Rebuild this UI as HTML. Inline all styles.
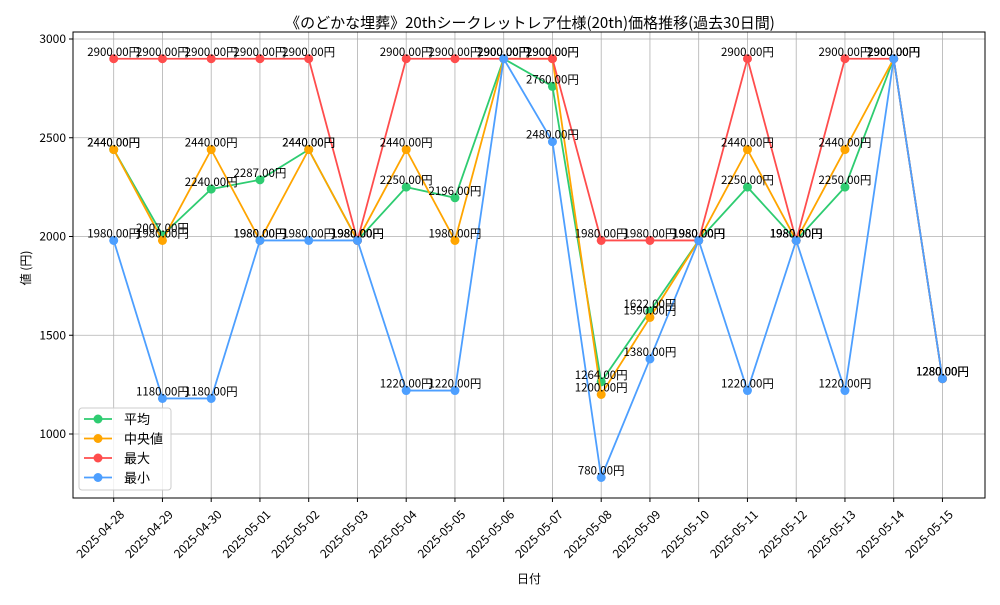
<!DOCTYPE html>
<html><head><meta charset="utf-8"><style>
body{margin:0;background:#fff;font-family:"Liberation Sans","WenQuanYi Zen Hei","Noto Sans CJK JP",sans-serif;}
text{font-family:"WenQuanYi Zen Hei","Noto Sans CJK JP","Liberation Sans",sans-serif;}
</style></head><body>
<svg id="chart" width="1000" height="600" xmlns="http://www.w3.org/2000/svg">
<g id="grid"></g>
<g id="series"></g>
<g id="axes"></g>
<text x="530" y="28" font-size="15" text-anchor="middle">《のどかな埋葬》20thシークレットレア仕様(20th)価格推移(過去30日間)</text>
<text x="529" y="583" font-size="12" text-anchor="middle">日付</text>
<text transform="translate(30,268) rotate(-90)" font-size="12" text-anchor="middle">値 (円)</text>
<g id="legend"></g>
</svg>
<script>
const dates=["2025-04-28","2025-04-29","2025-04-30","2025-05-01","2025-05-02","2025-05-03","2025-05-04","2025-05-05","2025-05-06","2025-05-07","2025-05-08","2025-05-09","2025-05-10","2025-05-11","2025-05-12","2025-05-13","2025-05-14","2025-05-15"];
const avgVals=[2440,2007,2240,2287,2440,1980,2250,2196,2900,2760,1264,1622,1980,2250,1980,2250,2900,1280];
const medVals=[2440,1980,2440,1980,2440,1980,2440,1980,2900,2900,1200,1590,1980,2440,1980,2440,2900,1280];
const maxVals=[2900,2900,2900,2900,2900,1980,2900,2900,2900,2900,1980,1980,1980,2900,1980,2900,2900,1280];
const minVals=[1980,1180,1180,1980,1980,1980,1220,1220,2900,2480,780,1380,1980,1220,1980,1220,2900,1280];
const yTicks=[1000,1500,2000,2500,3000];
const seriesNames=["平均","中央値","最大","最小"];
const NS="http://www.w3.org/2000/svg";
const L=73,R=985,T=32,B=498;
const xs=i=>113.7+i*48.75;
const ys=v=>434-(v-1000)*0.1975;
function mk(tag,attrs,parent,txt){const e=document.createElementNS(NS,tag);for(const k in attrs)e.setAttribute(k,attrs[k]);if(txt!==undefined)e.textContent=txt;parent.appendChild(e);return e;}
const grid=document.getElementById('grid'),axes=document.getElementById('axes'),ser=document.getElementById('series'),leg=document.getElementById('legend');
dates.forEach((d,i)=>{
 const g=mk('line',{x1:xs(i),x2:xs(i),y1:T,y2:B,stroke:'#b0b0b0','stroke-width':0.8},grid);
 
 const t=mk('line',{x1:xs(i),x2:xs(i),y1:B,y2:B+4,stroke:'#000'},axes);
 
 const lb=mk('text',{transform:`translate(${xs(i)+4},${B+10}) rotate(-45)`,'font-size':12,'text-anchor':'end','dominant-baseline':'hanging'},axes,d);
 
});
yTicks.forEach(v=>{
 const g=mk('line',{x1:L,x2:R,y1:ys(v),y2:ys(v),stroke:'#b0b0b0','stroke-width':0.8},grid);
 
 const t=mk('line',{x1:L-4,x2:L,y1:ys(v),y2:ys(v),stroke:'#000'},axes);
 
 const lb=mk('text',{x:L-7,y:ys(v)+4,'font-size':12,'text-anchor':'end'},axes,String(v));
 
});
const fr=mk('rect',{x:L,y:T,width:R-L,height:B-T,fill:'none',stroke:'#000','stroke-width':1},axes);

const all=[avgVals,medVals,maxVals,minVals];
const colors=["#2ecc71","#ffa500","#ff4d4d","#4d9fff"];
const keys=["avg","median","max","min"];
all.forEach((vals,s)=>{
 const g=mk('g',{},ser);
 const p=mk('polyline',{points:vals.map((v,i)=>xs(i)+','+ys(v)).join(' '),fill:'none',stroke:colors[s],'stroke-width':1.8},g);
 
 vals.forEach((v,i)=>{
  const c=mk('circle',{cx:xs(i),cy:ys(v),r:4.5,fill:colors[s]},g);
  
 });
});
all.forEach((vals,s)=>{
 vals.forEach((v,i)=>{
  const t=mk('text',{x:xs(i),y:ys(v)-3,'font-size':11.5,'text-anchor':'middle'},ser,v.toFixed(2)+'円');
  
 });
});
const box=mk('rect',{x:79,y:408,width:92,height:82,fill:'#fff','fill-opacity':0.8,stroke:'#ccc',rx:3},leg);

seriesNames.forEach((n,s)=>{
 const y=419+s*19.5;
 const g=mk('g',{},leg);
 mk('line',{x1:84,x2:112,y1:y,y2:y,stroke:colors[s],'stroke-width':1.8},g);
 mk('circle',{cx:98,cy:y,r:4.5,fill:colors[s]},g);
 mk('text',{x:124,y:y+5,'font-size':13},g,n);
});
</script>
</body></html>
